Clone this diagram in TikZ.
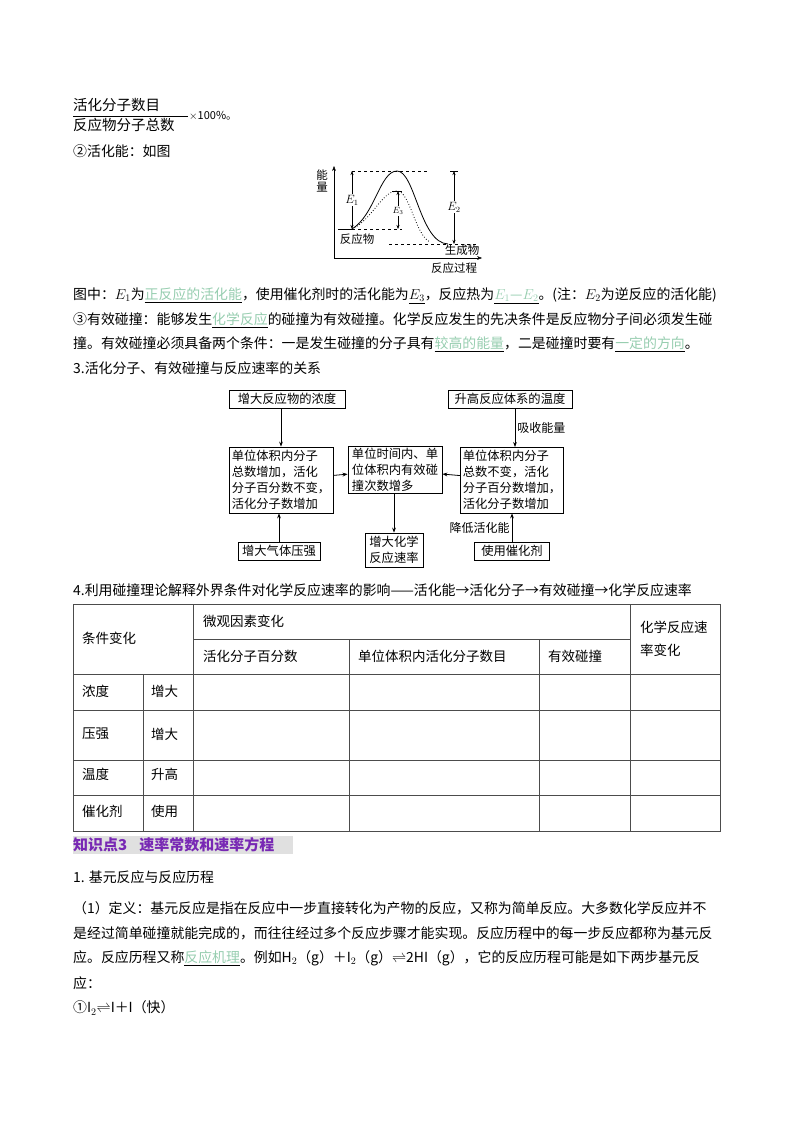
\documentclass[tikz,border=0pt]{standalone}
\usepackage{fontspec}
\setmainfont{Noto Sans CJK SC}
\usetikzlibrary{arrows.meta}
\definecolor{grn}{RGB}{150,205,175}
\definecolor{purp}{RGB}{120,40,180}
\newcommand\fsz[1]{\fontsize{#1}{#1}\selectfont}
\newcommand\blank[1]{\underline{\textcolor{grn}{#1}}}
\begin{document}
\begin{tikzpicture}[x=1pt,y=-1pt,
  txt/.style={anchor=west,inner sep=0pt,font=\fsz{13.9}},
  fbox/.style={draw,thick,inner sep=2pt,font=\fontsize{12.3}{16}\selectfont,align=left},
  arr/.style={-{Stealth[length=5pt]},thick},
  lab/.style={font=\fsz{12},inner sep=2pt},
  small/.style={font=\fsz{11.5},inner sep=1pt}]
\useasboundingbox (0,0) rectangle (800,1132);
% fraction
\node[txt,font=\fsz{14.5}] (fn) at (73,105) {活化分子数目};
\node[txt,font=\fsz{14.5}] (fd) at (73,125) {反应物分子总数};
\draw (73,116) -- (188,116);
\node[txt,font=\fsz{11}] (fx) at (189,116) {$\times$100\%。};
\node[txt] (l2) at (73,151) {②活化能：如图};
% energy diagram
\draw[arr,thin] (334,258) -- (334,166);
\draw[arr,thin] (334,258) -- (482,258);
\node[small] (nl1) at (322,175) {能};
\node[small] (nl2) at (322,187) {量};
\node[small] (rx) at (454,268) {反应过程};
\draw[dashed,thin] (352,171) -- (427,171);
\draw[dashed,thin] (352,229) -- (402,229);
\draw[thin] (338,229) -- (352,229);
\draw[dashed,thin] (389,244) -- (478,244);
\draw[thin] (392,191) -- (402,191);
\draw[thin] (450,171) -- (458,171);
\draw[thick] (352,229) .. controls (375,215) and (380,171) .. (397,171)
  .. controls (415,171) and (420,243) .. (448,244);
\draw[dotted,thick] (352,229) .. controls (372,220) and (382,191) .. (397,191)
  .. controls (410,191) and (415,235) .. (430,242);
\draw[-{Stealth[length=4pt]},thin] (352,200) -- (352,171);
\draw[-{Stealth[length=4pt]},thin] (352,200) -- (352,229);
\node[small,fill=white] (e1) at (352,200) {$E_1$};
\draw[-{Stealth[length=4pt]},thin] (398,212) -- (398,191);
\draw[-{Stealth[length=4pt]},thin] (398,212) -- (398,229);
\node[small,fill=white,font=\fsz{9}] (e3) at (398,211) {$E_3$};
\draw[-{Stealth[length=4pt]},thin] (454,207) -- (454,171);
\draw[-{Stealth[length=4pt]},thin] (454,207) -- (454,244);
\node[small,fill=white] (e2) at (454,207) {$E_2$};
\node[small] (re) at (357,239) {反应物};
\node[small] (pr) at (462,250) {生成物};
% text lines
\node[txt] (t1) at (73,296) {图中：$E_1$为\blank{正反应的活化能}，使用催化剂时的活化能为\underline{$E_3$}，反应热为\blank{$E_1$—$E_2$}。(注：$E_2$为逆反应的活化能)};
\node[txt] (t2) at (73,320) {③有效碰撞：能够发生\blank{化学反应}的碰撞为有效碰撞。化学反应发生的先决条件是反应物分子间必须发生碰};
\node[txt] (t3) at (73,344) {撞。有效碰撞必须具备两个条件：一是发生碰撞的分子具有\blank{较高的能量}，二是碰撞时要有\blank{一定的方向}。};
\node[txt] (t4) at (73,368) {3.活化分子、有效碰撞与反应速率的关系};
% flowchart
\node[fbox,minimum width=116pt,minimum height=18pt,align=center] (a) at (287,399) {增大反应物的浓度};
\node[fbox,minimum width=124pt,minimum height=18pt,align=center] (b) at (510,399) {升高反应体系的温度};
\node[fbox,minimum width=104pt,minimum height=66pt] (c) at (281,480) {单位体积内分子\\总数增加，活化\\分子百分数不变，\\活化分子数增加};
\node[fbox,minimum width=94pt,minimum height=34pt] (d) at (395,470) {单位时间内、单\\位体积内有效碰\\撞次数增多};
\node[fbox,minimum width=101pt,minimum height=66pt] (e) at (512,480) {单位体积内分子\\总数不变，活化\\分子百分数增加，\\活化分子数增加};
\node[fbox,minimum width=82pt,minimum height=18pt,align=center] (f) at (279,551) {增大气体压强};
\node[fbox,minimum width=58pt,minimum height=34pt,align=center] (g) at (394,550) {增大化学\\反应速率};
\node[fbox,minimum width=75pt,minimum height=18pt,align=center] (h) at (512,551) {使用催化剂};
\draw[arr] (a.south -| c.north) -- (c.north);
\draw[arr] (f.north) -- (f.north |- c.south);
\draw[arr] (c) -- (d);
\draw[arr] (e) -- (d);
\draw[arr] (d.south -| g.north) -- (g.north);
\draw[arr] (b.south -| 515,0) -- node[lab,right] {吸收能量} (515,447);
\draw[arr] (h.north) -- node[lab,left] {降低活化能} (h.north |- e.south);
% table
\node[txt] (t5) at (73,590) {4.利用碰撞理论解释外界条件对化学反应速率的影响——活化能→活化分子→有效碰撞→化学反应速率};
\begin{scope}[thin,draw=black!70]
\draw (73,604) rectangle (720,831);
\draw (193,639) -- (630,639);
\draw (73,674) -- (720,674);
\draw (73,710) -- (720,710);
\draw (73,760) -- (720,760);
\draw (73,795) -- (720,795);
\draw (143,674) -- (143,831);
\draw (193,604) -- (193,831);
\draw (630,604) -- (630,831);
\draw (349,639) -- (349,831);
\draw (539,639) -- (539,831);
\end{scope}
\begin{scope}[every node/.style={anchor=west,inner sep=0pt,font=\fsz{13.5}}]
\node (h1) at (82,638) {条件变化};
\node (h2) at (203,621) {微观因素变化};
\node (h3) at (640,627) {化学反应速};
\node (h4) at (640,650) {率变化};
\node (h5) at (203,656) {活化分子百分数};
\node (h6) at (358,656) {单位体积内活化分子数目};
\node (h7) at (548,656) {有效碰撞};
\node (r1) at (82,691) {浓度};\node (r1b) at (151,691) {增大};
\node (r2) at (82,734) {压强};\node (r2b) at (151,734) {增大};
\node (r3) at (82,774) {温度};\node (r3b) at (151,774) {升高};
\node (r4) at (82,811) {催化剂};\node (r4b) at (151,811) {使用};
\end{scope}
% section heading
\fill[black!12] (73,836) rectangle (293,854);
\node[txt,font=\fsz{15}\bfseries,text=purp] (kh) at (73,845) {知识点3\hspace{12pt}速率常数和速率方程};
\node[txt] (s1) at (73,877) {1. 基元反应与反应历程};
\node[txt] (s2) at (73,908) {（1）定义：基元反应是指在反应中一步直接转化为产物的反应，又称为简单反应。大多数化学反应并不};
\node[txt] (s3) at (73,933) {是经过简单碰撞就能完成的，而往往经过多个反应步骤才能实现。反应历程中的每一步反应都称为基元反};
\node[txt] (s4) at (73,958) {应。反应历程又称\blank{反应机理}。例如H$_2$（g）＋I$_2$（g）$\rightleftharpoons$2HI（g），它的反应历程可能是如下两步基元反};
\node[txt] (s5) at (73,983) {应：};
\node[txt] (s6) at (73,1008) {①I$_2$$\rightleftharpoons$I＋I（快）};
\end{tikzpicture}
\end{document}
